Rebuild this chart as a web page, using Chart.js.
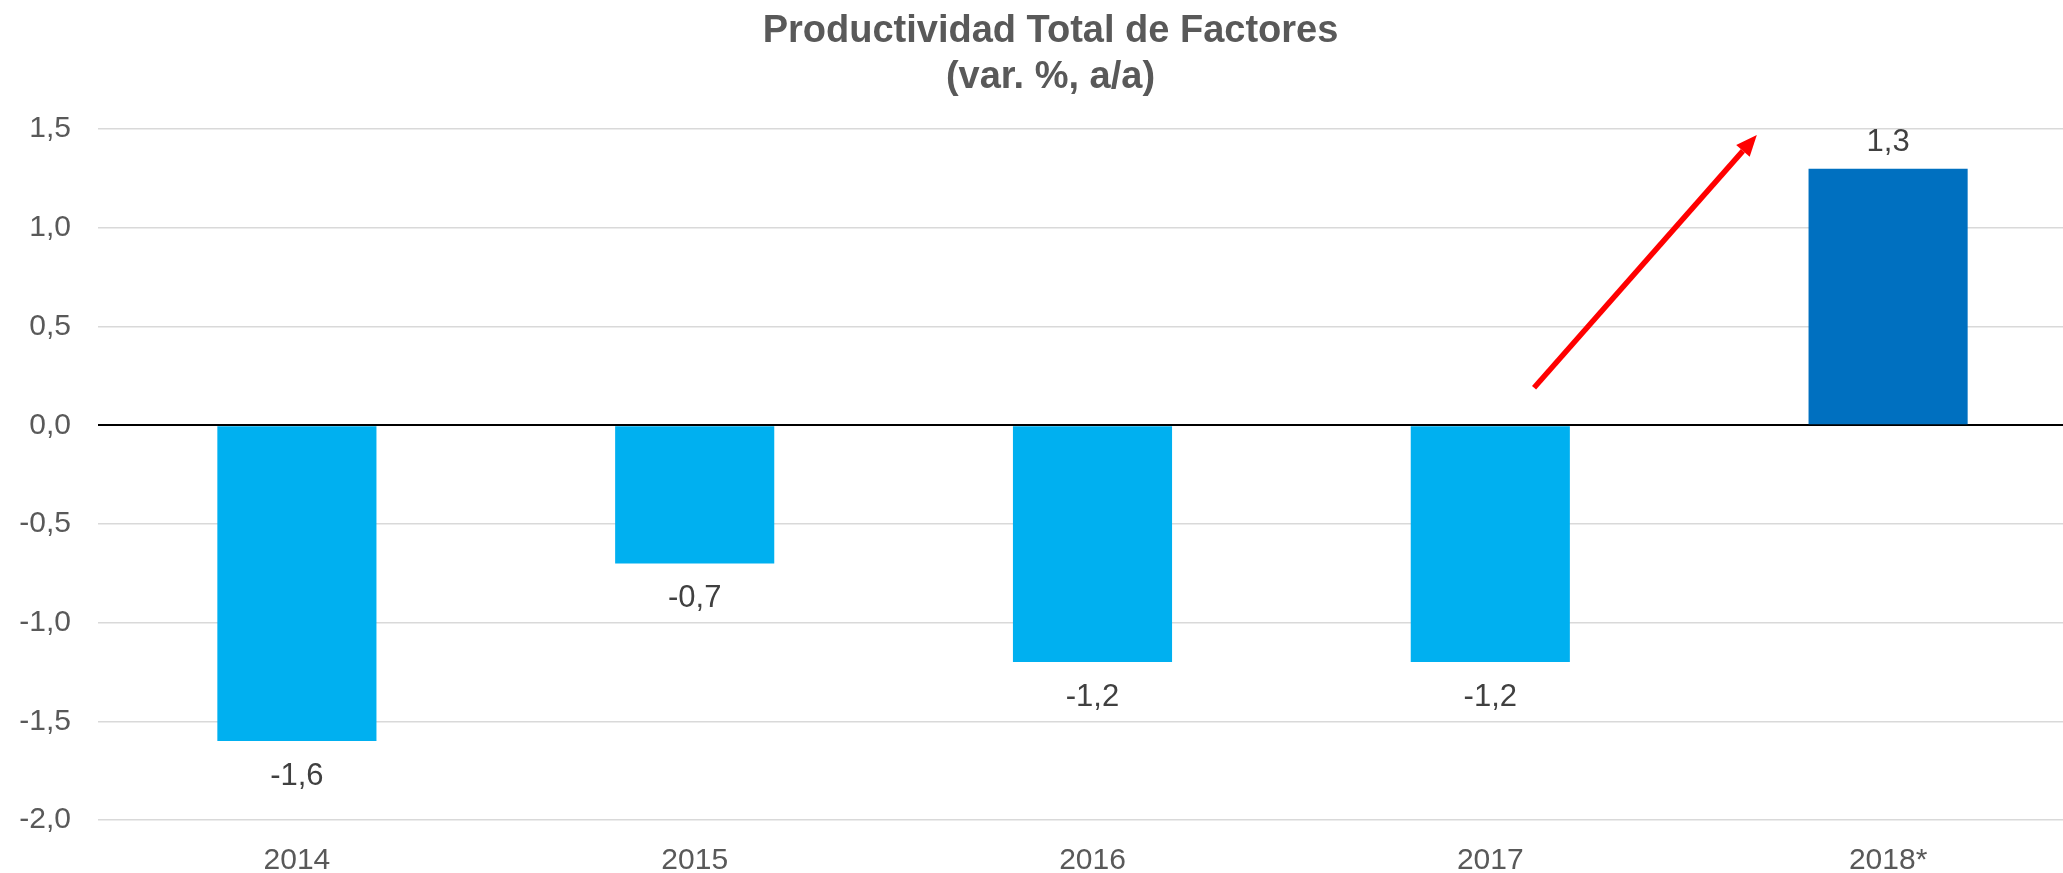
<!DOCTYPE html>
<html>
<head>
<meta charset="utf-8">
<script src="https://cdn.jsdelivr.net/npm/chart.js@4/dist/chart.umd.min.js"></script>
<style>
  html, body { margin:0; padding:0; background:#fff; overflow:hidden; }
  #wrap { width:2114px; height:873px; }
</style>
</head>
<body>
<div id="wrap"><canvas id="c" width="2114" height="873"></canvas></div>
<script>
const categories = ['2014', '2015', '2016', '2017', '2018*'];
const values = [-1.6, -0.7, -1.2, -1.2, 1.3];
const yTicks = [-2.0, -1.5, -1.0, -0.5, 0.0, 0.5, 1.0, 1.5];
// arrow annotation in data units: [category index, value]
const arrowStart = [3.11, 0.19];
const arrowEnd = [3.67, 1.47];

const barColors = ['#00B0F0', '#00B0F0', '#00B0F0', '#00B0F0', '#0070C0'];
const FONT = '"Liberation Sans", Arial, sans-serif';
const fmt = v => v.toFixed(1).replace('.', ',');

const labelsPlugin = {
  id: 'barLabels',
  afterDatasetsDraw(chart){
    const ctx = chart.ctx;
    const meta = chart.getDatasetMeta(0);
    ctx.save();
    ctx.font = '31px ' + FONT;
    ctx.fillStyle = '#404040';
    ctx.textAlign = 'center';
    ctx.textBaseline = 'middle';
    meta.data.forEach((bar, i) => {
      const v = values[i];
      const y = v >= 0 ? bar.y - 26 : bar.y + 35;
      ctx.fillText(fmt(v), bar.x, y);
    });
    ctx.restore();
  }
};

const arrowPlugin = {
  id: 'arrow',
  afterDatasetsDraw(chart){
    const {ctx, scales:{x, y}} = chart;
    const x0 = x.getPixelForValue(arrowStart[0]), y0 = y.getPixelForValue(arrowStart[1]);
    const x1 = x.getPixelForValue(arrowEnd[0]), y1 = y.getPixelForValue(arrowEnd[1]);
    const ang = Math.atan2(y1 - y0, x1 - x0);
    const headLen = 21, headW = 9;
    const bx = x1 - headLen * Math.cos(ang), by = y1 - headLen * Math.sin(ang);
    ctx.save();
    ctx.strokeStyle = '#FF0000';
    ctx.fillStyle = '#FF0000';
    ctx.lineWidth = 5.5;
    ctx.beginPath();
    ctx.moveTo(x0, y0);
    ctx.lineTo(bx, by);
    ctx.stroke();
    ctx.beginPath();
    ctx.moveTo(x1, y1);
    ctx.lineTo(bx + headW * Math.sin(ang), by - headW * Math.cos(ang));
    ctx.lineTo(bx - headW * Math.sin(ang), by + headW * Math.cos(ang));
    ctx.closePath();
    ctx.fill();
    ctx.restore();
  }
};

new Chart(document.getElementById('c'), {
  type: 'bar',
  data: {
    labels: categories,
    datasets: [{ data: values, backgroundColor: barColors, borderWidth: 0,
                 barPercentage: 0.4, categoryPercentage: 1 }]
  },
  options: {
    responsive: false,
    devicePixelRatio: 1,
    animation: false,
    layout: { padding: { left: 14, right: 27, top: 0, bottom: 0 } },
    plugins: {
      legend: { display: false },
      tooltip: { enabled: false },
      title: {
        display: true,
        text: ['Productividad Total de Factores', '(var. %, a/a)'],
        color: '#595959',
        font: { family: FONT, size: 38, weight: 'bold', lineHeight: 1.2 },
        padding: { top: 9, bottom: 29 }
      }
    },
    scales: {
      x: {
        afterFit(axis){ axis.height = 53; },
        grid: { display: false, drawTicks: false },
        border: { display: false },
        ticks: { color: '#595959', padding: 24,
                 font: { family: FONT, size: 30, lineHeight: 1.1 } }
      },
      y: {
        min: yTicks[0], max: yTicks[yTicks.length - 1],
        afterBuildTicks(axis){ axis.ticks = yTicks.map(v => ({ value: v })); },
        afterFit(axis){ axis.width = 84; },
        grid: {
          drawTicks: false,
          color: ctx => ctx.tick && ctx.tick.value === 0 ? '#000000' : '#D9D9D9',
          lineWidth: ctx => ctx.tick && ctx.tick.value === 0 ? 2 : 1.5
        },
        border: { display: false },
        ticks: {
          color: '#595959', padding: 27,
          font: { family: FONT, size: 30 },
          callback: v => fmt(v)
        }
      }
    }
  },
  plugins: [labelsPlugin, arrowPlugin]
});
</script>
</body>
</html>
